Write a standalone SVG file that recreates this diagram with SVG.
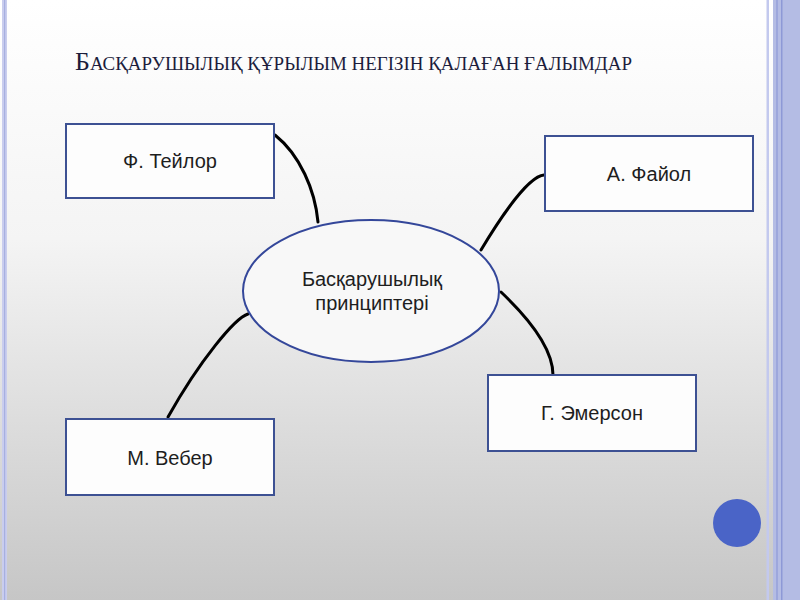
<svg xmlns="http://www.w3.org/2000/svg" width="800" height="600" viewBox="0 0 800 600">
<defs>
<linearGradient id="bg" x1="0" y1="0" x2="0" y2="1">
<stop offset="0" stop-color="#ffffff"/>
<stop offset="0.4" stop-color="#f4f4f4"/>
<stop offset="1" stop-color="#c6c6c6"/>
</linearGradient>
<style>
.box{fill:#fdfdfd;stroke:#3d5193;stroke-width:2}
.lbl{font-family:"Liberation Sans",Arial,sans-serif;font-size:20px;fill:#1e1e1e;text-anchor:middle}
.con{fill:none;stroke:#000;stroke-width:3;stroke-linecap:round}
.title{font-family:"Liberation Serif","Times New Roman",serif;fill:#1c1d3c}
</style>
</defs>
<rect x="0" y="0" width="800" height="600" fill="url(#bg)"/>
<g id="frame">
<rect x="2" y="0" width="5" height="600" fill="#c9cdee"/>
<rect x="4" y="0" width="1.2" height="600" fill="#a7afe0"/>
<rect x="766.5" y="0" width="2.5" height="600" fill="#c3c9ee"/>
<rect x="773" y="0" width="27" height="600" fill="#b4bce4"/>
<rect x="776" y="0" width="2" height="600" fill="#9da7dc"/>
<rect x="781" y="0" width="1.5" height="600" fill="#8e99d6"/>
</g>
<text class="title" x="75" y="70" textLength="557" lengthAdjust="spacingAndGlyphs"><tspan font-size="26">Б</tspan><tspan font-size="19">АСҚАРУШЫЛЫҚ ҚҰРЫЛЫМ НЕГІЗІН ҚАЛАҒАН ҒАЛЫМДАР</tspan></text>
<g id="connectors">
<path class="con" d="M275,135 C300,155 315,190 318,222"/>
<path class="con" d="M544,175 C530,176 505,210 481,250"/>
<path class="con" d="M248,314 C235,318 200,360 168,417"/>
<path class="con" d="M501,292 C520,310 553,345 553,375"/>
</g>
<g id="center">
<ellipse cx="371" cy="291" rx="128" ry="71" fill="#f8f8f8" stroke="#34479a" stroke-width="2"/>
<text class="lbl" x="372" y="286">Басқарушылық</text>
<text class="lbl" x="372" y="310">принциптері</text>
</g>
<g id="taylor">
<rect class="box" x="66" y="124" width="208" height="74"/>
<text class="lbl" x="170" y="168">Ф. Тейлор</text>
</g>
<g id="fayol">
<rect class="box" x="545" y="136" width="208" height="75"/>
<text class="lbl" x="649" y="181">А. Файол</text>
</g>
<g id="weber">
<rect class="box" x="66" y="419" width="208" height="76"/>
<text class="lbl" x="170" y="465">М. Вебер</text>
</g>
<g id="emerson">
<rect class="box" x="488" y="375" width="208" height="76"/>
<text class="lbl" x="592" y="420">Г. Эмерсон</text>
</g>
<circle cx="737" cy="523" r="24" fill="#4a64c7"/>
</svg>
